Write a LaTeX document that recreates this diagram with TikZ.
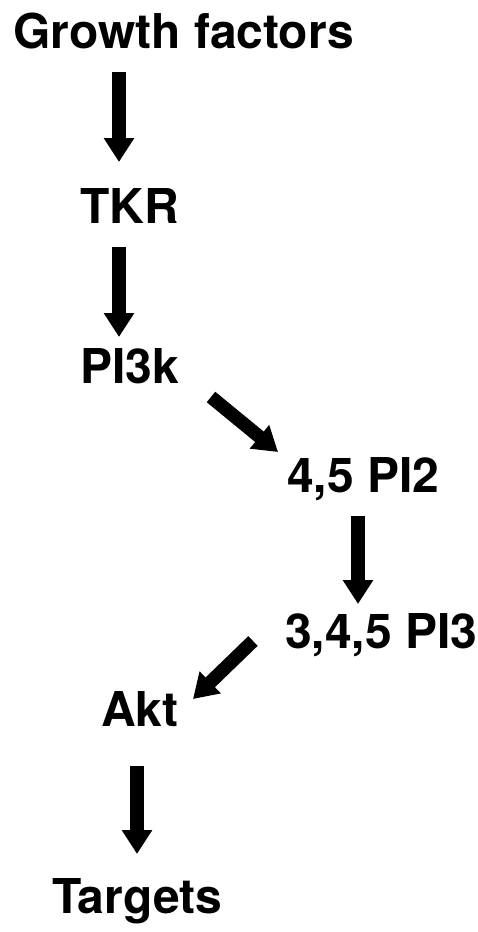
\documentclass[tikz,border=0pt]{standalone}
\usepackage{fontspec}
\setmainfont{TeX Gyre Heros}
\usetikzlibrary{arrows.meta}
\begin{document}
\begin{tikzpicture}[x=1pt,y=-1pt,
  lbl/.style={anchor=base west,inner sep=0pt,font=\fontsize{48}{50}\selectfont\bfseries},
  bigarrow/.style={line width=13.5pt,-{Triangle[width=29pt,length=24pt]}}]
\useasboundingbox (0,0) rectangle (477,932);
\node[lbl] (gf) at (13,48) {Growth factors};
\node[lbl] (tkr) at (80,223) {TKR};
\node[lbl] (pik) at (80,383) {PI3k};
\node[lbl] (pi2) at (287,492) {4,5 PI2};
\node[lbl] (pi3) at (285,648) {3,4,5 PI3};
\node[lbl] (akt) at (101,726) {Akt};
\node[lbl] (tg) at (52,913) {Targets};
\coordinate (a1s) at (119,72);  \coordinate (a1e) at (119,162);
\coordinate (a2s) at (119,247); \coordinate (a2e) at (119,337);
\coordinate (a3s) at (211,397); \coordinate (a3e) at (278,452);
\coordinate (a4s) at (358,516); \coordinate (a4e) at (358,604);
\coordinate (a5s) at (253,641); \coordinate (a5e) at (193,699);
\coordinate (a6s) at (137,766); \coordinate (a6e) at (137,854);
\draw[bigarrow] (a1s) -- (a1e);
\draw[bigarrow] (a2s) -- (a2e);
\draw[bigarrow] (a3s) -- (a3e);
\draw[bigarrow] (a4s) -- (a4e);
\draw[bigarrow] (a5s) -- (a5e);
\draw[bigarrow] (a6s) -- (a6e);
\end{tikzpicture}
\end{document}
